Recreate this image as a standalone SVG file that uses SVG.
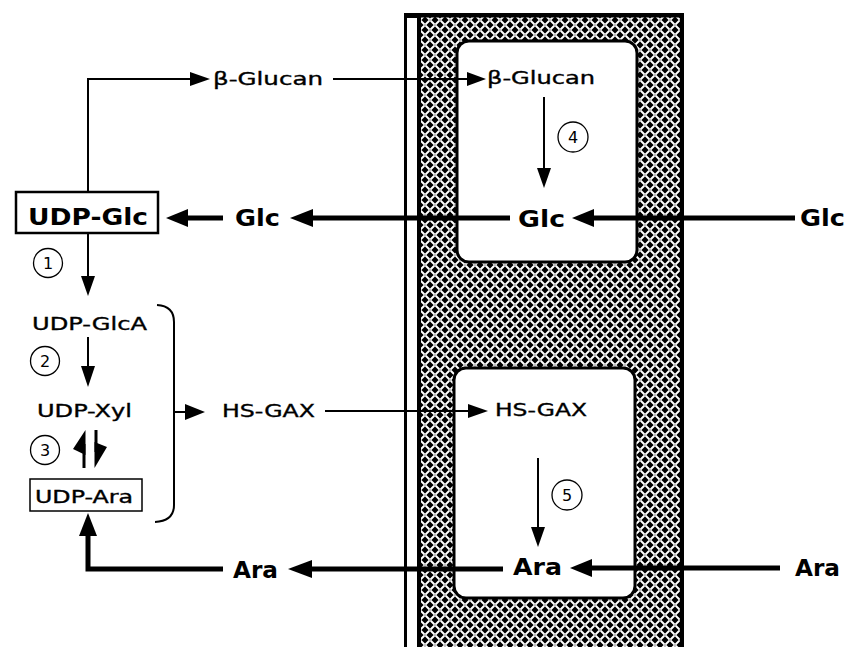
<svg xmlns="http://www.w3.org/2000/svg" width="856" height="647" viewBox="0 0 856 647">
<defs>
<pattern id="weave" width="10" height="10" patternUnits="userSpaceOnUse">
<rect width="10" height="10" fill="#000"/>
<g stroke="#fff" stroke-width="1.9" stroke-linecap="round">
<line x1="1" y1="1" x2="4" y2="4"/>
<line x1="6" y1="4" x2="9" y2="1"/>
<line x1="1" y1="9" x2="4" y2="6"/>
<line x1="6" y1="6" x2="9" y2="9"/>
</g>
</pattern>
<style>
.med{font-family:"DejaVu Sans","Liberation Sans",sans-serif;font-size:17px;fill:#000;stroke:#000;stroke-width:0.35}
.bold{font-family:"DejaVu Sans","Liberation Sans",sans-serif;font-weight:bold;font-size:23px;fill:#000}
.num{font-family:"DejaVu Sans","Liberation Sans",sans-serif;font-size:16px;fill:#000;text-anchor:middle}
.thin{fill:none;stroke:#000;stroke-width:2}
.thick{fill:none;stroke:#000;stroke-width:5}
.head{fill:#000}
.circ{fill:#fff;stroke:#000;stroke-width:1.3}
.box{fill:#fff;stroke:#000}
</style>
</defs>
<rect width="856" height="647" fill="#fff"/>

<g id="wall">
<rect x="404" y="13" width="280" height="5" fill="#000"/>
<rect x="404" y="13" width="3" height="634" fill="#000"/>
<rect x="419" y="15.5" width="263" height="640" fill="url(#weave)" stroke="#000" stroke-width="4"/>
<rect x="457" y="41" width="180" height="221" rx="12" fill="#fff" stroke="#000" stroke-width="3"/>
<rect x="454" y="368" width="181" height="230" rx="12" fill="#fff" stroke="#000" stroke-width="3"/>
</g>

<g id="connectors">
<path class="thin" d="M88,192 V79 H192"/>
<polygon class="head" points="210,79 190,72 190,86"/>
<path class="thin" d="M333,79 H470"/>
<polygon class="head" points="486,79 467,72 467,86"/>
<path class="thin" d="M544,97 V170"/>
<polygon class="head" points="544,188 537,168 551,168"/>
<path class="thick" d="M795,218 H590"/>
<polygon class="head" points="572,218 594,209 594,227"/>
<path class="thick" d="M510,218 H310"/>
<polygon class="head" points="290,218 313,209 313,227"/>
<path class="thick" d="M223,218 H185"/>
<polygon class="head" points="166,218 188,209 188,227"/>
<path class="thin" d="M88,233 V278"/>
<polygon class="head" points="88,296 81,276 95,276"/>
<path class="thin" d="M88,337 V368"/>
<polygon class="head" points="88,387 81,366 95,366"/>
<path d="M84,468 V444" stroke="#000" stroke-width="3"/>
<polygon class="head" points="85.5,430 73,449 85.5,455"/>
<path d="M96,430 V452" stroke="#000" stroke-width="3"/>
<polygon class="head" points="94.5,442 107,447 94.5,468"/>
<path class="thick" d="M223,569 H88 V533"/>
<polygon class="head" points="88,513 79,536 97,536"/>
<path class="thick" d="M503,569 H310"/>
<polygon class="head" points="288,569 312,560 312,578"/>
<path class="thick" d="M780,568 H590"/>
<polygon class="head" points="570,568 592,559 592,577"/>
<path class="thin" d="M157,305 Q174,306 174,322 V505 Q174,521 155,522"/>
<path class="thin" d="M174,412 H188"/>
<polygon class="head" points="205,412 185,404 185,420"/>
<path class="thin" d="M325,411 H470"/>
<polygon class="head" points="488,411 468,404 468,418"/>
<path class="thin" d="M538,458 V530"/>
<polygon class="head" points="538,547 531,527 545,527"/>
</g>

<g id="beta-glucan-out"><text class="med" x="213" y="85" textLength="110" lengthAdjust="spacingAndGlyphs">β-Glucan</text></g>
<g id="beta-glucan-in"><text class="med" x="487" y="84" textLength="108" lengthAdjust="spacingAndGlyphs">β-Glucan</text></g>
<g id="udp-glc">
<rect class="box" x="16" y="192" width="142" height="41" stroke-width="2.5"/>
<text class="bold" x="28" y="225" font-size="24" textLength="120" lengthAdjust="spacingAndGlyphs">UDP-Glc</text>
</g>
<g id="glc-cyto"><text class="bold" x="235" y="226" textLength="45" lengthAdjust="spacingAndGlyphs">Glc</text></g>
<g id="glc-wall"><text class="bold" x="518" y="227" textLength="47" lengthAdjust="spacingAndGlyphs">Glc</text></g>
<g id="glc-out"><text class="bold" x="800" y="226" textLength="45" lengthAdjust="spacingAndGlyphs">Glc</text></g>
<g id="udp-glca"><text class="med" x="32" y="330" textLength="115" lengthAdjust="spacingAndGlyphs">UDP-GlcA</text></g>
<g id="udp-xyl"><text class="med" x="37" y="417" textLength="95" lengthAdjust="spacingAndGlyphs">UDP-Xyl</text></g>
<g id="udp-ara">
<rect class="box" x="30" y="479" width="112" height="32" stroke-width="1.5"/>
<text class="med" x="35" y="503" font-size="19" textLength="98" lengthAdjust="spacingAndGlyphs">UDP-Ara</text>
</g>
<g id="hs-gax-out"><text class="med" x="222" y="417" textLength="93" lengthAdjust="spacingAndGlyphs">HS-GAX</text></g>
<g id="hs-gax-in"><text class="med" x="495" y="416" textLength="92" lengthAdjust="spacingAndGlyphs">HS-GAX</text></g>
<g id="ara-cyto"><text class="bold" x="233" y="578" textLength="45" lengthAdjust="spacingAndGlyphs">Ara</text></g>
<g id="ara-wall"><text class="bold" x="513" y="575" textLength="49" lengthAdjust="spacingAndGlyphs">Ara</text></g>
<g id="ara-out"><text class="bold" x="795" y="576" textLength="45" lengthAdjust="spacingAndGlyphs">Ara</text></g>

<g id="step1"><circle class="circ" cx="48" cy="263" r="14.5"/><text class="num" x="48" y="269">1</text></g>
<g id="step2"><circle class="circ" cx="45" cy="361" r="14.5"/><text class="num" x="45" y="367">2</text></g>
<g id="step3"><circle class="circ" cx="45" cy="450" r="14.5"/><text class="num" x="45" y="456">3</text></g>
<g id="step4"><circle class="circ" cx="573" cy="137" r="15"/><text class="num" x="573" y="143">4</text></g>
<g id="step5"><circle class="circ" cx="567" cy="495" r="15"/><text class="num" x="567" y="501">5</text></g>
</svg>
